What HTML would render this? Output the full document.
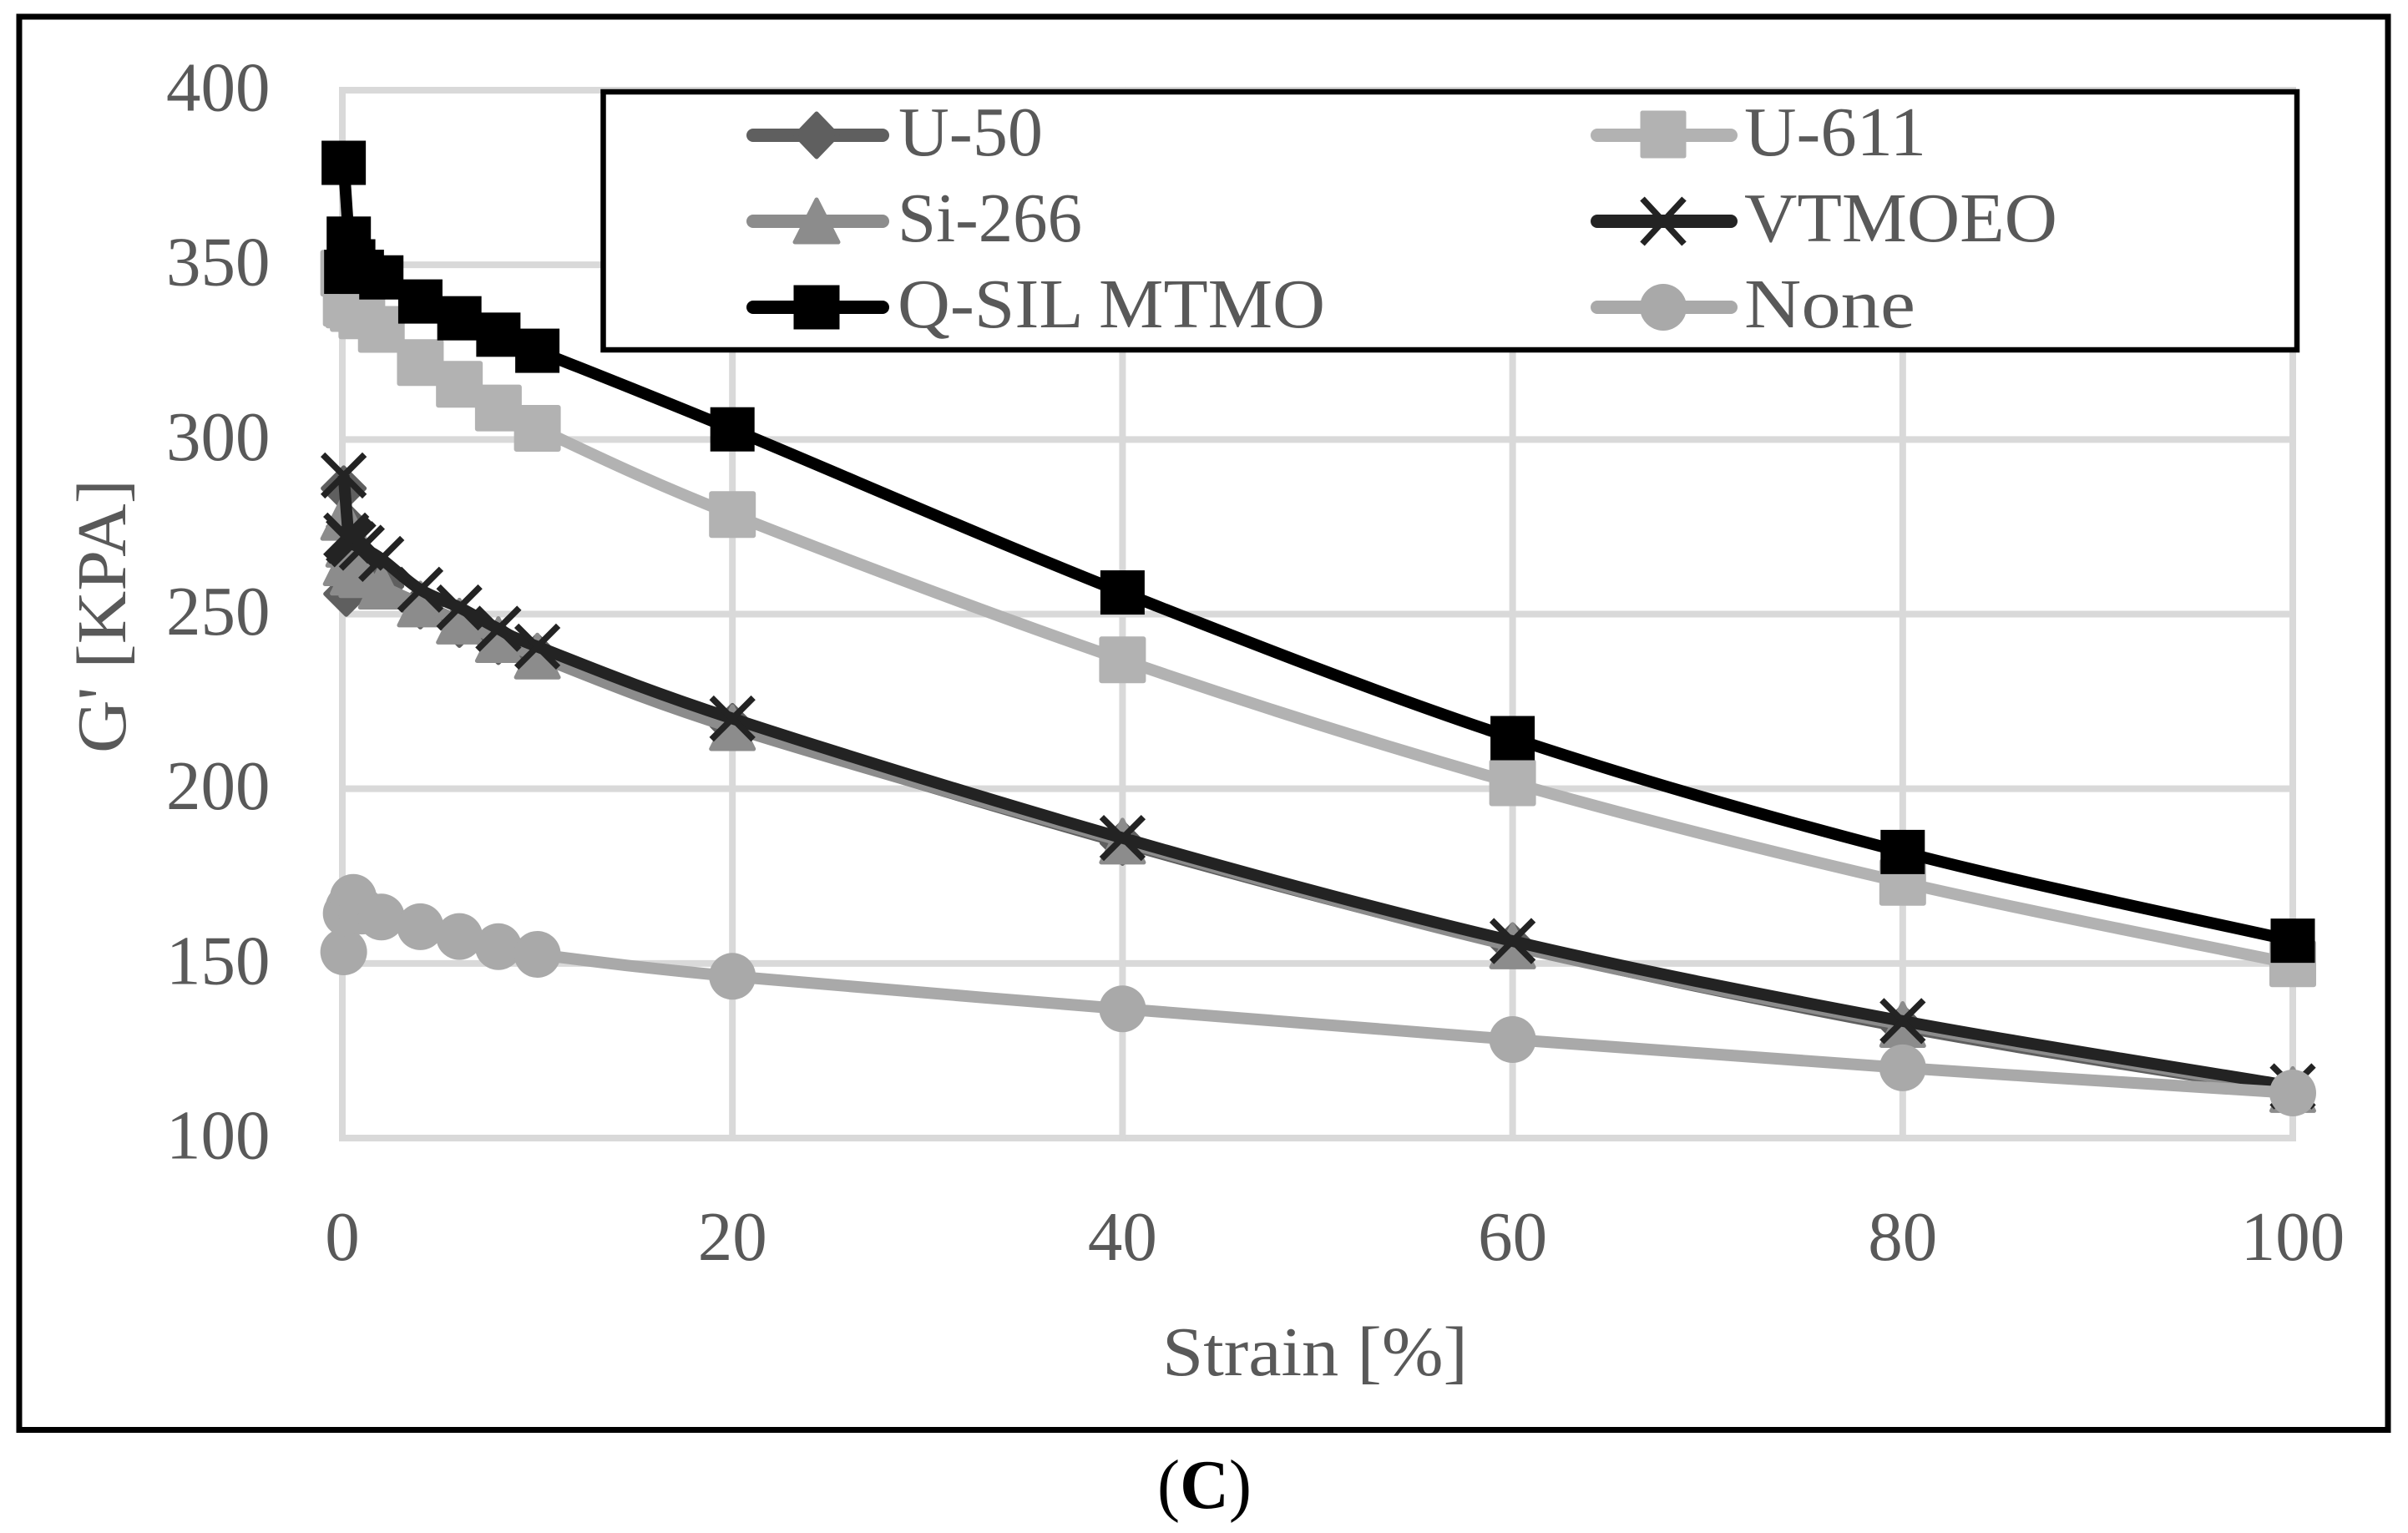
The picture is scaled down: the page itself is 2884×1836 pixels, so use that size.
<!DOCTYPE html>
<html lang="en">
<head>
<meta charset="utf-8">
<title>G' vs Strain</title>
<style>
html,body{margin:0;padding:0;background:#fff;}
svg{display:block;}
text{font-family:"Liberation Serif",serif;fill:#595959;font-size:84px;}
</style>
</head>
<body>
<svg id="chart" xmlns="http://www.w3.org/2000/svg" width="2884" height="1836" viewBox="0 0 2884 1836">
  <rect x="0" y="0" width="2884" height="1836" fill="#ffffff"/>
  <rect x="23" y="20" width="2837" height="1692.500" fill="#ffffff" stroke="#000000" stroke-width="7"/>
  <g id="grid"></g>
  <g id="yticks"></g>
  <g id="xticks"></g>
  <text x="150" y="738" text-anchor="middle" textLength="328" lengthAdjust="spacingAndGlyphs" transform="rotate(-90 150 738)">G' [KPA]</text>
  <text x="1392" y="1647" textLength="366" lengthAdjust="spacingAndGlyphs">Strain [%]</text>
  <g id="series"></g>

  <g>
    <rect x="722.500" y="110" width="2028.500" height="309" fill="#ffffff" stroke="#000000" stroke-width="6.500"/>

    <g>
      <line x1="902" y1="162" x2="1057" y2="162" stroke="#5f5f5f" stroke-width="16" stroke-linecap="round"/>
      <polygon points="978,136 1003,162 978,188 953,162" fill="#5f5f5f" stroke="#5f5f5f" stroke-width="5" stroke-linejoin="round"/>
      <text x="1076" y="186" textLength="173" lengthAdjust="spacingAndGlyphs">U-50</text>
    </g>
    <g>
      <line x1="1913" y1="162" x2="2073" y2="162" stroke="#b2b2b2" stroke-width="16" stroke-linecap="round"/>
      <rect x="1967" y="135" width="50" height="52" fill="#b2b2b2" stroke="#b2b2b2" stroke-width="5" stroke-linejoin="round"/>
      <text x="2089" y="186" textLength="218" lengthAdjust="spacingAndGlyphs">U-611</text>
    </g>
    <g>
      <line x1="902" y1="265" x2="1057" y2="265" stroke="#8c8c8c" stroke-width="16" stroke-linecap="round"/>
      <polygon points="978,239 1004,290 952,290" fill="#8c8c8c" stroke="#8c8c8c" stroke-width="5" stroke-linejoin="round"/>
      <text x="1075" y="289" textLength="221" lengthAdjust="spacingAndGlyphs">Si-266</text>
    </g>
    <g>
      <line x1="1913" y1="265" x2="2073" y2="265" stroke="#232323" stroke-width="16" stroke-linecap="round"/>
      <path d="M1967,238 L2017,292 M2017,238 L1967,292" fill="none" stroke="#232323" stroke-width="7.500"/>
      <text x="2089" y="289" textLength="375" lengthAdjust="spacingAndGlyphs">VTMOEO</text>
    </g>
    <g>
      <line x1="902" y1="368" x2="1057" y2="368" stroke="#000000" stroke-width="16" stroke-linecap="round"/>
      <rect x="950.500" y="341.500" width="55" height="53" fill="#000000"/>
      <text x="1075" y="392" textLength="512" lengthAdjust="spacingAndGlyphs">Q-SIL MTMO</text>
    </g>
    <g>
      <line x1="1913" y1="368" x2="2073" y2="368" stroke="#a9a9a9" stroke-width="16" stroke-linecap="round"/>
      <circle cx="1992" cy="368" r="28" fill="#a9a9a9"/>
      <text x="2089" y="392" textLength="205" lengthAdjust="spacingAndGlyphs">None</text>
    </g>
  </g>

  <text x="1386" y="1806" textLength="113" lengthAdjust="spacingAndGlyphs" style="fill:#000000">(<tspan font-weight="bold" style="fill:#000000">C</tspan>)</text>
</svg>

<script>
const strain = [0.07, 0.33, 0.2, 0.56, 1, 2, 4, 6, 8, 10, 20, 40, 60, 80, 100];
const u50Values = [286, 275, 255.8, 268, 264, 258, 252.2, 246.9, 242, 238, 218, 184.5, 155.2, 131.8, 113.5];
const u611Values = [347.6, 338.5, 339, 337.5, 335.4, 331.5, 322, 315.8, 309, 303.2, 278.5, 236.9, 201.7, 173.2, 149.9];
const si266Values = [277.7, 270, 264.7, 262, 261.3, 258, 252.9, 248, 242.7, 238, 217.5, 185, 155, 132.5, 113.9];
const vtmoeoValues = [289.7, 271, 272.5, 270, 269, 265.8, 257, 251.9, 245.8, 240.7, 220.1, 185.9, 156.4, 133.5, 114.8];
const qsilValues = [379.2, 357.5, 348, 351, 348, 346.4, 339.5, 334.7, 330, 325.4, 302.9, 256.2, 214.5, 181.9, 156.5];
const noneValues = [153.3, 166, 164.3, 168.9, 165, 163.3, 160.5, 157.7, 154.8, 152.6, 146.3, 137, 128.2, 120.1, 112.9];
const yTickLabels = [100, 150, 200, 250, 300, 350, 400];
const xTickLabels = [0, 20, 40, 60, 80, 100];

const NS = 'http://www.w3.org/2000/svg';
const plot = { x0: 410, x1: 2746, yBottom: 1363, yTop: 108, xMin: 0, xMax: 100, yMin: 100, yMax: 400 };

function xScale(v) {
  return plot.x0 + (v - plot.xMin) / (plot.xMax - plot.xMin) * (plot.x1 - plot.x0);
}
function yScale(v) {
  return plot.yBottom - (v - plot.yMin) / (plot.yMax - plot.yMin) * (plot.yBottom - plot.yTop);
}
function make(tag, parent) {
  const el = document.createElementNS(NS, tag);
  parent.appendChild(el);
  return el;
}

const grid = document.getElementById('grid');
const yticks = document.getElementById('yticks');
const xticks = document.getElementById('xticks');
const seriesRoot = document.getElementById('series');

yTickLabels.forEach(function (t) {
  const line = make('line', grid);
  
  
  line.setAttribute('x1', plot.x0 - 4);
  line.setAttribute('x2', plot.x1 + 4);
  line.setAttribute('y1', yScale(t));
  line.setAttribute('y2', yScale(t));
  line.setAttribute('stroke', '#d9d9d9');
  line.setAttribute('stroke-width', 8);

  const label = make('text', yticks);
  
  
  label.setAttribute('x', 199);
  label.setAttribute('y', yScale(t) + 24.5);
  label.setAttribute('textLength', String(t).length * 41.5);
  label.setAttribute('lengthAdjust', 'spacingAndGlyphs');
  label.textContent = t;
});

xTickLabels.forEach(function (t) {
  const line = make('line', grid);
  
  
  line.setAttribute('x1', xScale(t));
  line.setAttribute('x2', xScale(t));
  line.setAttribute('y1', plot.yTop - 4);
  line.setAttribute('y2', plot.yBottom + 4);
  line.setAttribute('stroke', '#d9d9d9');
  line.setAttribute('stroke-width', 8);

  const label = make('text', xticks);
  
  
  const w = String(t).length * 41.5;
  label.setAttribute('x', xScale(t) - w / 2);
  label.setAttribute('y', 1509);
  label.setAttribute('textLength', w);
  label.setAttribute('lengthAdjust', 'spacingAndGlyphs');
  label.textContent = t;
});

function linePath(pts) {
  let d = 'M' + pts[0][0] + ',' + pts[0][1];
  for (let i = 0; i < pts.length - 1; i++) {
    if (i < 3) {
      d += ' L' + pts[i + 1][0] + ',' + pts[i + 1][1];
    } else {
      const p0 = pts[i - 1], p1 = pts[i], p2 = pts[i + 1], p3 = pts[Math.min(i + 2, pts.length - 1)];
      const c1x = p1[0] + (p2[0] - p0[0]) / 6, c1y = p1[1] + (p2[1] - p0[1]) / 6;
      const c2x = p2[0] - (p3[0] - p1[0]) / 6, c2y = p2[1] - (p3[1] - p1[1]) / 6;
      d += ' C' + c1x + ',' + c1y + ' ' + c2x + ',' + c2y + ' ' + p2[0] + ',' + p2[1];
    }
  }
  return d;
}

function drawMarker(kind, cx, cy, color, parent) {
  let m;
  if (kind === 'diamond') {
    m = make('polygon', parent);
    m.setAttribute('points', [cx, cy - 25, cx + 25, cy, cx, cy + 25, cx - 25, cy].join(' '));
    m.setAttribute('fill', color);
    m.setAttribute('stroke', color);
    m.setAttribute('stroke-width', 5);
    m.setAttribute('stroke-linejoin', 'round');
  } else if (kind === 'square') {
    m = make('rect', parent);
    m.setAttribute('x', cx - 25);
    m.setAttribute('y', cy - 25);
    m.setAttribute('width', 50);
    m.setAttribute('height', 50);
    m.setAttribute('fill', color);
    m.setAttribute('stroke', color);
    m.setAttribute('stroke-width', 6);
    m.setAttribute('stroke-linejoin', 'round');
  } else if (kind === 'blacksquare') {
    m = make('rect', parent);
    m.setAttribute('x', cx - 26.5);
    m.setAttribute('y', cy - 26.5);
    m.setAttribute('width', 53);
    m.setAttribute('height', 53);
    m.setAttribute('fill', color);
  } else if (kind === 'triangle') {
    m = make('polygon', parent);
    m.setAttribute('points', [cx, cy - 25.5, cx + 25.5, cy + 25.5, cx - 25.5, cy + 25.5].join(' '));
    m.setAttribute('fill', color);
    m.setAttribute('stroke', color);
    m.setAttribute('stroke-width', 5);
    m.setAttribute('stroke-linejoin', 'round');
  } else if (kind === 'cross') {
    m = make('path', parent);
    m.setAttribute('d', 'M' + (cx - 25) + ',' + (cy - 25) + ' L' + (cx + 25) + ',' + (cy + 25) + ' M' + (cx + 25) + ',' + (cy - 25) + ' L' + (cx - 25) + ',' + (cy + 25));
    m.setAttribute('fill', 'none');
    m.setAttribute('stroke', color);
    m.setAttribute('stroke-width', 7.5);
  } else {
    m = make('circle', parent);
    m.setAttribute('cx', cx);
    m.setAttribute('cy', cy);
    m.setAttribute('r', 28);
    m.setAttribute('fill', color);
  }
  
  
}

function drawSeries(seriesName, values, color, kind) {
  const g = make('g', seriesRoot);
  
  
  const pts = values.map(function (v, i) {
    return [xScale(strain[i]), yScale(v)];
  });
  const path = make('path', g);
  
  
  path.setAttribute('d', linePath(pts));
  path.setAttribute('fill', 'none');
  path.setAttribute('stroke', color);
  path.setAttribute('stroke-width', 14);
  path.setAttribute('stroke-linejoin', 'round');
  pts.forEach(function (p) {
    drawMarker(kind, p[0], p[1], color, g);
  });
}

drawSeries('series-u-50', u50Values, '#5f5f5f', 'diamond');
drawSeries('series-u-611', u611Values, '#b2b2b2', 'square');
drawSeries('series-si-266', si266Values, '#8c8c8c', 'triangle');
drawSeries('series-vtmoeo', vtmoeoValues, '#232323', 'cross');
drawSeries('series-q-sil-mtmo', qsilValues, '#000000', 'blacksquare');
drawSeries('series-none', noneValues, '#a9a9a9', 'circle');
</script>
</body>
</html>
